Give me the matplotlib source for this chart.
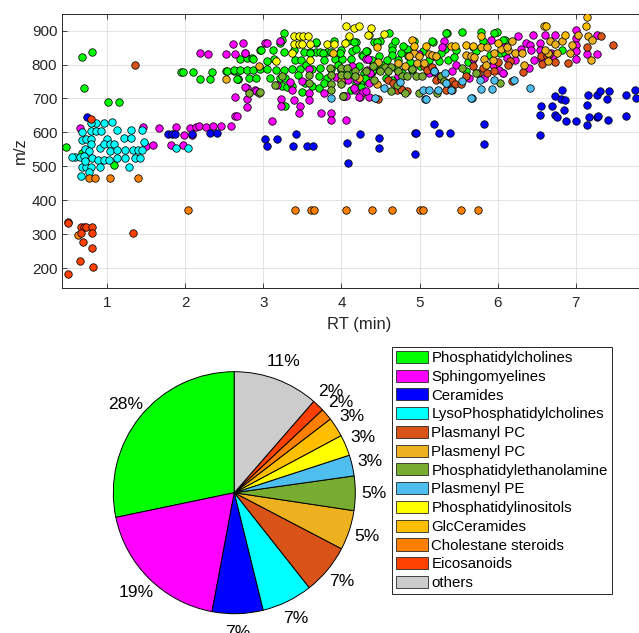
import matplotlib
matplotlib.use("Agg")
import matplotlib.pyplot as plt
from matplotlib.patches import Patch

plt.rcParams['font.family'] = ['Liberation Sans', 'DejaVu Sans']

# ---------------- data ----------------
class_names = ["Phosphatidylcholines", "Sphingomyelines", "Ceramides",
               "LysoPhosphatidylcholines", "Plasmanyl PC", "Plasmenyl PC",
               "Phosphatidylethanolamine", "Plasmenyl PE", "Phosphatidylinositols",
               "GlcCeramides", "Cholestane steroids", "Eicosanoids", "others"]
class_colors = ["#00FF00", "#FF00FF", "#0000FF", "#00FFFF", "#D95319", "#EDB120",
                "#77AC30", "#4DBEEE", "#FFFF00", "#FFBF00", "#FF8000", "#FF4000", "#CCCCCC"]
pie_shares = [28.3, 18.8, 6.8, 6.8, 6.7, 5.3, 4.6, 2.8, 2.8, 2.6, 1.6, 1.6, 11.4]

pc = [(0.68,821),(0.80,837),(0.70,732),(1.01,691),(1.15,691),(0.47,558),(1.08,503),(0.68,539),
      (1.94,779),(1.97,779),(2.10,779),(2.31,757),(2.34,779),(2.52,781),(2.62,781),(2.68,781),
      (2.68,756),(2.70,816),(2.19,757),(2.53,781),(2.67,757),(2.79,818),(2.86,818),(2.96,843),
      (3.26,893),(3.24,871),(3.21,864),(2.97,844),(3.12,844),(3.13,815),(3.26,836),(3.39,844),
      (3.67,864),(3.67,836),(3.60,836),(3.72,836),(3.82,836),(3.99,844),(3.92,815),(4.01,815),
      (4.12,815),(4.18,866),(4.14,839),(4.26,829),(4.33,839),(2.87,817),(2.62,785),(2.70,783),
      (2.79,783),(2.87,785),(2.96,787),(3.04,787),(3.16,783),(3.27,785),(3.37,787),(2.66,757),
      (2.81,760),(2.91,760),(3.09,760),(3.21,760),(3.28,760),(3.04,810),(3.41,812),(3.48,812),
      (3.47,787),(3.62,787),(3.73,790),(3.86,787),(3.99,785),(4.07,785),(3.49,718),(3.62,736),
      (3.71,765),(3.71,731),(3.82,760),(3.24,737),(3.30,735),(3.36,737),(3.28,679),(4.03,708),
      (4.12,726),(4.12,775),(4.18,746),(4.27,751),(4.33,751),(4.29,775),
      (3.52,838),(3.60,835),(3.67,865),(3.76,835),(3.86,838),(3.90,868),(3.98,835),(4.09,868),
      (4.16,865),(4.18,845),(4.27,825),(4.39,810),(4.46,792),(4.39,779),(4.49,868),(4.65,855),
      (4.76,833),(4.93,868),(5.17,865),(5.35,894),(5.55,896),(5.68,853),(5.81,868),(5.99,897),
      (6.09,872),(4.02,707),(4.24,705),(4.36,756),(4.03,779),(5.19,779),
      (4.61,893),(4.42,866),(4.46,866),(4.68,869),(4.84,846),(4.65,844),(4.65,829),(4.79,854),
      (4.72,814),(4.32,839),(4.39,814),(4.43,800),(4.53,800),(4.85,824),(5.16,869),(5.34,893),
      (5.79,895),(5.96,893),(5.33,846),(5.37,814),(5.47,842),(5.72,839),(6.03,834),(5.25,810),
      (5.01,795),(4.91,785),(4.78,775),(4.57,760),(4.65,755),(4.39,780),(5.16,780),(5.59,780),
      (5.27,833),(6.07,873),(6.09,834),(6.82,844),
      (3.55,800),(3.78,812),(3.95,800),(4.22,795),(4.30,760),(4.48,826),(4.58,812),(4.70,790),
      (4.88,808),(5.05,840),(5.12,812),(5.44,822),(5.62,808),(5.90,828),(3.44,770),(3.78,745),
      (3.53,745),(4.25,735)]
pc_rt = [p[0] for p in pc]
pc_mz = [p[1] for p in pc]

sm = [(0.65,612),(1.46,616),(1.66,614),(1.50,561),(1.58,564),(1.81,562),(1.97,562),(1.88,616),
      (2.06,614),(2.13,617),(2.18,619),(2.27,616),(2.35,619),(2.45,619),(2.59,619),(1.98,591),
      (2.08,592),(2.64,648),(2.63,705),(2.29,832),(2.52,832),(2.61,860),(2.64,832),(2.19,835),
      (2.74,863),(2.76,834),(2.79,730),(2.79,697),(2.79,674),(2.89,726),(2.66,648),
      (3.02,864),(3.04,864),(3.21,869),(2.77,834),(2.77,734),(2.90,721),(3.11,633),(3.22,698),
      (3.22,677),(3.36,726),(3.39,696),(3.47,679),(3.45,657),(3.49,751),(3.59,716),(3.59,696),
      (3.59,787),(3.77,716),(3.87,657),(3.74,657),(3.87,637),(4.06,637),(4.06,706),(3.93,763),
      (4.03,755),(4.09,753),(4.13,795),(4.17,726),(4.20,755),(4.27,718),(4.32,815),(4.33,785),
      (3.17,741),(3.34,748),(4.35,705),(4.22,705),(4.16,730),
      (5.32,869),(5.29,853),(5.19,824),(5.47,800),(5.68,816),(5.92,873),(6.08,853),(6.07,775),
      (5.94,800),(4.34,816),(4.32,721),(4.35,746),(4.37,775),(4.73,765),(4.99,832),(5.12,775),
      (5.25,765),(5.64,760),(5.42,780),(5.83,760),(6.02,785),
      (6.26,885),(6.46,888),(6.61,888),(6.74,888),(7.01,901),(7.01,878),(7.27,888),(6.36,864),
      (6.42,859),(6.55,864),(6.43,844),(6.55,842),(6.69,834),(7.01,859),(7.01,839),(7.15,832),
      (7.28,832),(7.01,816),(6.47,814),(6.57,814),(6.22,814),(6.12,819),(6.40,790),(6.71,824),
      (6.07,775),(6.30,846)]
sm_rt = [p[0] for p in sm]
sm_mz = [p[1] for p in sm]

cer = [(0.74,644),(1.78,595),(1.83,595),(1.87,595),(2.08,594),(2.31,597),(2.40,597),(3.02,579),
       (3.04,560),(3.18,579),(3.38,560),(3.42,595),(3.56,560),(3.64,560),(4.07,568),(4.09,510),
       (4.24,595),(4.48,583),(4.48,553),(4.94,597),(4.96,597),(4.94,536),(5.18,624),(5.25,599),
       (5.39,599),(5.82,625),(5.83,565),(6.54,593),(6.55,652),(6.56,678),(6.73,652),
       (6.83,726),(6.73,706),(6.81,698),(6.86,694),(6.70,678),(6.85,667),(6.76,644),(6.88,633),
       (7.00,633),(7.16,711),(7.27,711),(7.31,723),(7.43,723),(7.40,697),(7.14,681),(7.17,646),
       (7.27,646),(7.29,648),(7.15,623),(7.41,637),(7.64,711),(7.76,724),(7.77,701),(7.64,649)]
cer_rt = [p[0] for p in cer]
cer_mz = [p[1] for p in cer]

lpc = [(1.06,631),(0.96,628),(0.86,628),(0.79,628),(0.68,601),(0.79,604),(0.85,604),(0.92,604),
       (1.13,606),(1.30,608),(1.45,608),(0.68,577),(0.73,579),(0.79,581),(0.79,567),(1.00,579),
       (1.21,582),(1.30,582),(1.47,573),(0.71,550),(0.76,544),(0.91,553),(0.96,566),(1.03,566),
       (1.09,567),(1.03,545),(1.13,548),(1.22,548),(1.33,549),(1.39,549),(1.44,549),(0.59,527),
       (0.65,527),(0.70,530),(0.80,524),(0.88,519),(0.96,519),(1.02,519),(1.12,523),(1.22,525),
       (1.36,525),(1.42,525),(0.68,497),(0.73,497),(0.79,497),(0.91,497),(1.28,497),(0.66,472),
       (0.76,484),(1.88,553),(2.03,553),(0.55,527),(0.72,515)]
lpc_rt = [p[0] for p in lpc]
lpc_mz = [p[1] for p in lpc]

plasmanyl_pc = [(1.35,800),(4.60,755),(4.66,746),(4.71,726),(4.78,726),(4.84,721),(5.06,797),
                (5.09,785),(5.16,793),(5.21,753),(5.28,757),(5.36,746),(5.42,750),(5.46,744),
                (5.53,744),(5.59,765),(5.68,797),(5.75,775),(5.81,790),(5.87,775),(5.96,780),
                (5.34,726),(5.42,726),(7.33,883),(7.48,859),(7.15,852),(6.56,824),(6.63,824),
                (6.74,807),(6.90,805),(6.57,803),(6.16,810),(6.33,777),(6.18,751),(6.66,830),
                (4.47,697),(4.76,727),(6.00,806),(6.13,800)]
plasmanyl_rt = [p[0] for p in plasmanyl_pc]
plasmanyl_mz = [p[1] for p in plasmanyl_pc]

plasmenyl_pc = [(2.52,758),(2.94,796),(3.99,750),(4.22,760),(4.47,807),(4.46,744),(4.93,834),
                (4.86,824),(4.99,824),(4.97,805),(5.06,805),(5.12,832),(5.16,829),(5.21,824),
                (5.79,853),(5.86,853),(5.59,829),(5.66,824),(5.70,821),(5.94,814),(5.96,834),
                (6.05,846),(5.83,815),(5.85,800),(4.82,795),(4.73,805),(7.03,888),(7.16,885),
                (7.21,871),(6.18,869),(6.14,844),(6.22,834),(6.31,834),(6.67,869),(6.73,861),
                (6.82,869),(6.95,859),(6.93,834),(6.65,834),(6.65,810),(6.76,834),(7.20,812),
                (6.61,842),(6.34,800),(6.12,852)]
plasmenyl_rt = [p[0] for p in plasmenyl_pc]
plasmenyl_mz = [p[1] for p in plasmenyl_pc]

pe = [(2.81,715),(2.94,715),(2.95,718),(3.15,741),(3.24,765),(3.59,770),(3.58,747),(3.85,790),
      (3.86,768),(3.86,744),(3.87,726),(3.99,790),(4.07,790),(3.99,768),(3.99,744),(4.07,768),
      (4.17,780),(4.31,780),(4.17,765),(4.02,708),(4.41,795),(4.56,793),(4.64,793),(4.49,780),
      (4.60,780),(4.72,780),(4.78,767),(4.84,767),(4.95,767),(4.91,787),(5.03,765),(5.19,780),
      (5.27,765),(5.31,750),(5.55,790),(5.72,775),(4.42,755),(4.64,721),(4.82,716),(5.23,716),
      (6.03,747),(4.99,716),(4.71,741)]
pe_rt = [p[0] for p in pe]
pe_mz = [p[1] for p in pe]

plasmenyl_pe = [(3.87,701),(4.55,731),(4.75,748),(5.04,726),(5.07,698),(5.12,726),(5.19,780),
                (5.24,726),(5.33,775),(5.34,746),(5.40,726),(5.54,751),(5.67,701),(5.77,753),
                (5.79,728),(5.93,728),(5.95,753),(4.43,701),(6.21,753),(6.41,730),(5.08,697),
                (5.66,700)]
plasmenyl_pe_rt = [p[0] for p in plasmenyl_pe]
plasmenyl_pe_mz = [p[1] for p in plasmenyl_pe]

pi = [(3.39,885),(3.45,885),(3.51,885),(3.57,885),(3.39,861),(3.45,861),(3.49,861),(3.37,834),
      (3.60,861),(3.82,861),(3.91,861),(4.06,913),(4.16,908),(4.22,913),(4.10,885),(4.04,864),
      (3.16,809),(3.60,812),(4.35,888),(4.38,908),(4.34,888),(4.54,891)]
pi_rt = [p[0] for p in pi]
pi_mz = [p[1] for p in pi]

glccer = [(4.91,871),(4.93,854),(5.08,854),(5.40,856),(5.46,856),(5.79,883),(6.01,864),
          (6.59,913),(6.62,913),(7.13,913),(7.15,940),(6.87,888),(4.45,852),(3.89,834),
          (5.59,859),(5.68,856)]
glccer_rt = [p[0] for p in glccer]
glccer_mz = [p[1] for p in glccer]

chol = [(0.76,466),(0.84,466),(1.03,466),(1.39,466),(2.03,370),(3.40,371),(3.61,371),(3.65,371),
        (4.06,371),(4.39,371),(4.65,371),(5.01,371),(5.05,371),(5.53,371),(5.75,371),(0.63,296)]
chol_rt = [p[0] for p in chol]
chol_mz = [p[1] for p in chol]

eico = [(0.79,640),(0.50,336),(0.50,333),(0.66,320),(0.70,320),(0.73,321),(0.80,321),(0.66,303),
        (0.80,303),(1.33,303),(0.69,276),(0.80,259),(0.65,221),(0.81,204),(0.50,182)]
eico_rt = [p[0] for p in eico]
eico_mz = [p[1] for p in eico]

x_ticks = [1, 2, 3, 4, 5, 6, 7]
y_ticks = [200, 300, 400, 500, 600, 700, 800, 900]

series = [(pc_rt, pc_mz), (sm_rt, sm_mz), (cer_rt, cer_mz), (lpc_rt, lpc_mz),
          (plasmanyl_rt, plasmanyl_mz), (plasmenyl_rt, plasmenyl_mz), (pe_rt, pe_mz),
          (plasmenyl_pe_rt, plasmenyl_pe_mz), (pi_rt, pi_mz), (glccer_rt, glccer_mz),
          (chol_rt, chol_mz), (eico_rt, eico_mz)]

# ---------------- figure ----------------
W, H = 639, 633
fig = plt.figure(figsize=(W / 100, H / 100), dpi=100)
fig.patch.set_facecolor('white')

axl, axr, axt, axb = 62.3, 656.0, 14.0, 287.7
ax = fig.add_axes([axl / W, 1 - axb / H, (axr - axl) / W, (axb - axt) / H])
for (xs, ys), col in zip(series, class_colors):
    ax.scatter(xs, ys, s=29, c=col, edgecolors='black', linewidths=0.55, zorder=3)
ax.set_xlim(0.423, 8.03)
ax.set_ylim(142, 949)
ax.set_xticks(x_ticks)
ax.set_yticks(y_ticks)
ax.grid(True, color='#dedede', linewidth=0.6, zorder=0)
ax.set_axisbelow(True)
for sp in ax.spines.values():
    sp.set_color('#262626')
    sp.set_linewidth(0.7)
ax.tick_params(axis='both', direction='in', top=True, right=True, length=3.4, width=0.6,
               colors='#262626', labelsize=11)
ax.tick_params(axis='x', pad=6.3)
ax.tick_params(axis='y', pad=3.6)
ax.set_xlabel('RT (min)', fontsize=12, color='#262626')
ax.set_ylabel('m/z', fontsize=12, color='#262626')
ax.xaxis.set_label_coords(0.5, (axb - 325) / (axb - axt))
ax.xaxis.label.set_va('center')
ax.yaxis.set_label_coords((20.5 - axl) / (axr - axl), 0.5)
ax.yaxis.label.set_va('center')

# ---------------- pie ----------------
cx, cy, R = 234.3, 492.7, 121.0
half = 1.3 * R
pax = fig.add_axes([(cx - half) / W, 1 - (cy + half) / H, 2 * half / W, 2 * half / H])
wedges, texts, autotexts = pax.pie(pie_shares, colors=class_colors, startangle=90,
                                   counterclock=True, autopct='%.0f%%', pctdistance=1.155,
                                   wedgeprops=dict(edgecolor='black', linewidth=0.7),
                                   textprops=dict(fontsize=12.6, color='black'))
pax.set_xlim(-1.3, 1.3)
pax.set_ylim(-1.3, 1.3)
pax.set_aspect('equal')
pax.axis('off')
for t in autotexts:
    t.set_clip_on(False)

handles = [Patch(facecolor=c, edgecolor='#262626', linewidth=0.6) for c in class_colors]
leg = fig.legend(handles, class_names, loc='upper left',
                 bbox_to_anchor=(392 / W, 1 - 347 / H), fontsize=10.8,
                 frameon=True, fancybox=False, edgecolor='#262626', framealpha=1,
                 borderpad=0.25, labelspacing=0.30, handlelength=2.13,
                 handleheight=0.87, handletextpad=0.25, borderaxespad=0)
leg.get_frame().set_linewidth(0.7)

fig.savefig('out.png', dpi=100)
